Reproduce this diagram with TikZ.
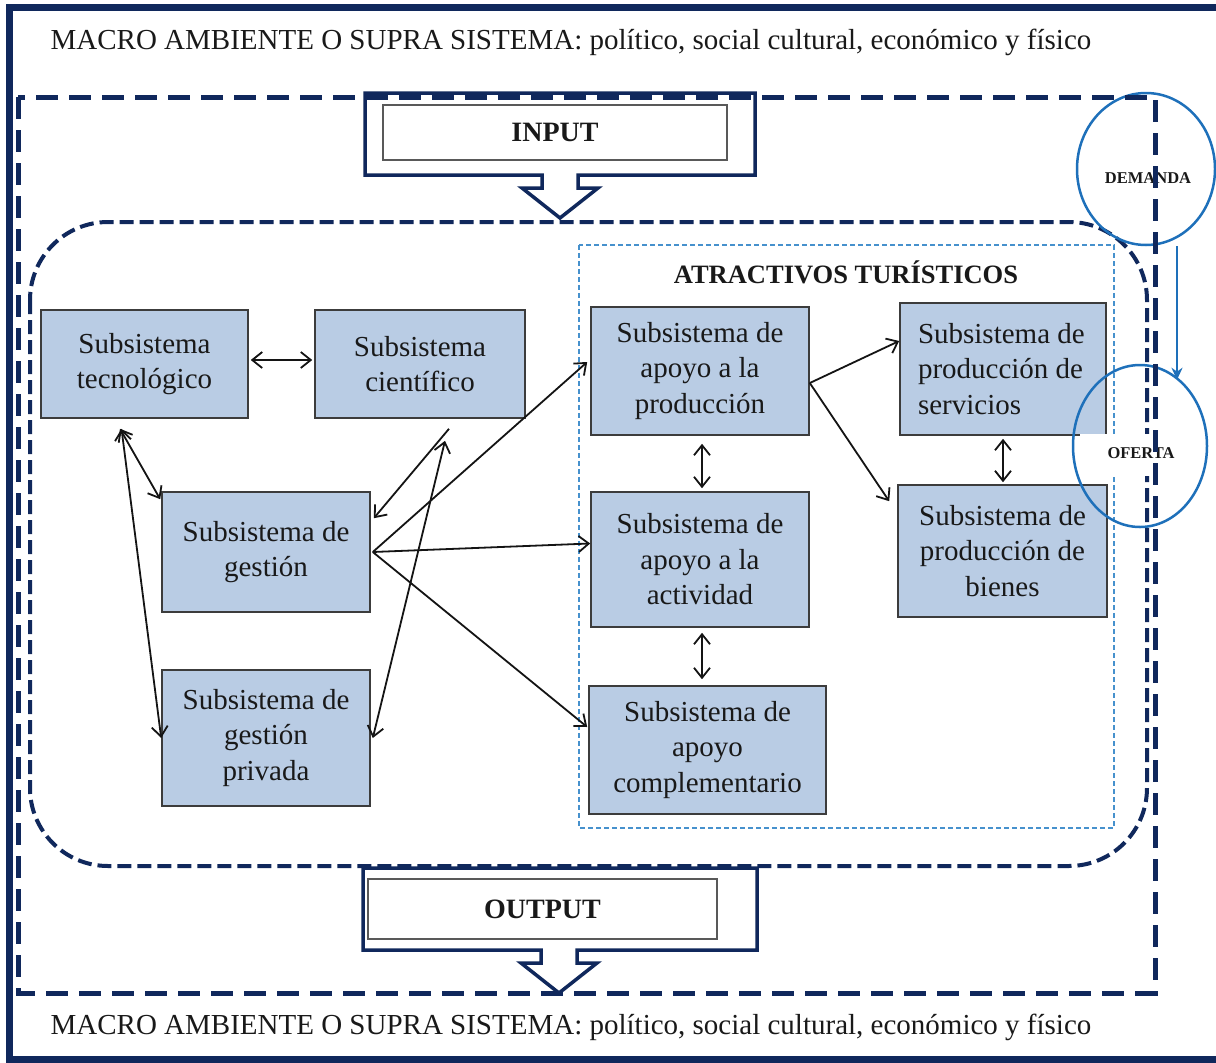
\documentclass[tikz,border=0pt]{standalone}
\usepackage{fontspec}
\setmainfont{Liberation Serif}
\usetikzlibrary{arrows.meta,calc,shapes.geometric}
\definecolor{navy}{RGB}{16,40,92}
\definecolor{boxfill}{RGB}{185,204,228}
\definecolor{boxline}{RGB}{60,60,60}
\definecolor{ltblue}{RGB}{70,145,205}
\definecolor{cblue}{RGB}{30,112,186}
\definecolor{txt}{RGB}{25,25,25}
\begin{document}
\begin{tikzpicture}[x=1bp,y=-1bp,
  box/.style 2 args={draw=boxline, fill=boxfill, line width=1.6bp, inner sep=0pt,
    text width=#1, minimum height=#2, align=flush center, text=txt,
    font=\fontsize{29bp}{35.5bp}\selectfont},
  tip/.tip={Straight Barb[length=10bp,width=16bp]},
  conn/.style={draw=black!92, line width=1.8bp, -tip},
  dconn/.style={draw=black!92, line width=1.8bp, tip-tip},
  macro/.style={text=txt, inner sep=0pt, font=\fontsize{29bp}{34bp}\selectfont},
  iobox/.style={draw=black!65, line width=1.5bp, fill=white, inner sep=0pt,
    font=\bfseries\fontsize{28bp}{32bp}\selectfont, text=txt},
  ioshape/.style={draw=navy, line width=3.5bp, fill=white, line join=miter},
  circ/.style={ellipse, draw=cblue, line width=2.5bp, inner sep=0pt},
  clabel/.style={inner sep=0pt, text=txt, font=\bfseries\fontsize{16.5bp}{18bp}\selectfont}
]
\useasboundingbox (0,0) rectangle (1216,1063);
\fill[white] (0,0) rectangle (1216,1063);
% frame
\draw[navy, line width=7bp] (1230,7) -- (9,7) -- (9,1059.5) -- (1230,1059.5);
% macro texts
\node[macro] (mtop) at (571,42) {MACRO AMBIENTE O SUPRA SISTEMA: político, social cultural, económico y físico};
\node[macro] (mbot) at (571,1027) {MACRO AMBIENTE O SUPRA SISTEMA: político, social cultural, económico y físico};

% rounded dashed system
\draw[navy, line width=4bp, dash pattern=on 14bp off 6bp, rounded corners=78bp] (30,222) rectangle (1147,866);
% atractivos dotted
\draw[ltblue, line width=1.5bp, dash pattern=on 5bp off 3bp] (579,245) rectangle (1114,828);
\node[inner sep=0pt, text=txt, font=\bfseries\fontsize{26.5bp}{30bp}\selectfont] (atr) at (846,272) {ATRACTIVOS TURÍSTICOS};

% boxes
\node[box={207bp}{108bp}] (tec) at (144.5,364) {Subsistema\\tecnológico};
\node[box={210bp}{108bp}] (cien) at (420,364) {Subsistema\\científico};
\node[box={208bp}{120bp}] (gest) at (266,552) {Subsistema de\\gestión};
\node[box={208bp}{136bp}] (gpriv) at (266,738) {Subsistema de\\gestión\\privada};
\node[box={218bp}{128bp}] (approd) at (700,371) {Subsistema de\\apoyo a la\\producción};
\node[box={218bp}{135bp}] (apact) at (700,559.5) {Subsistema de\\apoyo a la\\actividad};
\node[box={237bp}{128bp}] (apcomp) at (707.5,750) {Subsistema de\\apoyo\\complementario};
\node[box={170bp}{132bp}, align=flush left, inner xsep=18bp] (serv) at (1003,369) {Subsistema de\\producción de\\servicios};
\node[box={209bp}{132bp}] (bien) at (1002.5,551) {Subsistema de\\producción de\\bienes};

% connectors
\draw[dconn] ($(tec.east)+(2,-4)$) -- ($(cien.west)+(-2,-4)$);
\draw[dconn] ($(tec.south)+(-24.5,10)$) -- ($(gest.north west)+(-1,8)$);
\draw[dconn] ($(tec.south)+(-23,10)$) -- (gpriv.west);
\draw[conn] ($(cien.south)+(29,10)$) -- ($(gest.north east)+(3,27)$);
\draw[dconn] ($(gpriv.east)+(2,0)$) -- ($(cien.south)+(25,22)$);
\draw[conn] ($(gest.east)+(2,0)$) -- ($(approd.west)+(-3,-9)$);
\draw[conn] ($(gest.east)+(2,0)$) -- ($(apact.west)+(0,-16)$);
\draw[conn] ($(gest.east)+(2,0)$) -- ($(apcomp.west)+(-1,-23)$);
\draw[conn] ($(approd.east)+(0,12)$) -- ($(serv.west)+(0,-28)$);
\draw[conn] ($(approd.east)+(0,12)$) -- ($(bien.north west)+(-8,17)$);
\draw[dconn] ($(approd.south)+(2,8)$) -- ($(apact.north)+(2,-3)$);
\draw[dconn] ($(apact.south)+(2,5)$) -- ($(apcomp.north)+(-5.5,-6)$);
\draw[dconn] ($(serv.south)+(0,3)$) -- ($(bien.north)+(0.5,-2)$);

% input / output
\draw[ioshape] (365,93) -- (755,93) -- (755,175) -- (578,175) -- (578,188) -- (598,188)
  -- (560,218) -- (522,188) -- (542,188) -- (542,175) -- (365,175) -- cycle;
\node[iobox, minimum width=344bp, minimum height=55bp] (input) at (555,132.5) {INPUT};
\draw[ioshape] (363,868) -- (757,868) -- (757,950) -- (577,950) -- (577,963) -- (597,963)
  -- (559,993) -- (521,963) -- (541,963) -- (541,950) -- (363,950) -- cycle;
\node[iobox, minimum width=349bp, minimum height=60bp] (output) at (542.5,909) {OUTPUT};

% demanda / oferta
\fill[white] (1080,434) rectangle (1180,476);
\node[circ, minimum width=138bp, minimum height=152bp] (dem) at (1146,169) {};
\node[circ, minimum width=134bp, minimum height=162bp] (ofe) at (1140,446) {};
\node[clabel] (demt) at (1148,178) {DEMANDA};
\node[clabel] (ofet) at (1141,453) {OFERTA};
\draw[cblue, line width=2.5bp, -{Stealth[length=12bp,width=11bp]}] ($(dem.south)+(31,0)$) -- ($(ofe.north)+(37,16)$);

% outer dashed environment
\draw[navy, line width=5bp, dash pattern=on 22bp off 11bp] (18,97) rectangle (1155,993);
\end{tikzpicture}
\end{document}
